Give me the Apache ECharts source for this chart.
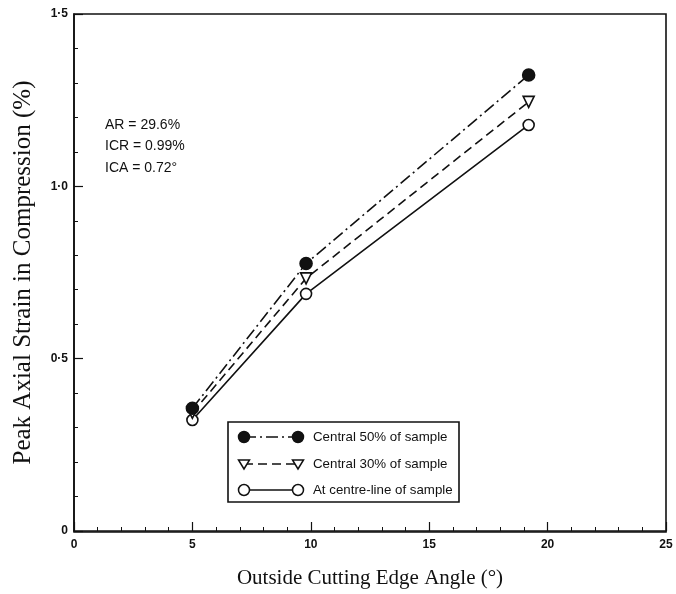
<!DOCTYPE html>
<html><head><meta charset="utf-8">
<script src="https://cdn.jsdelivr.net/npm/echarts@6/dist/echarts.min.js"></script>
<style>html,body{margin:0;padding:0;background:#fff}#c{width:676px;height:594px}</style>
</head><body><div id="c"></div>
<script>
const angles = [5, 9.8, 19.2];
const central50 = [0.356, 0.776, 1.323];
const central30 = [0.343, 0.733, 1.245];
const centreLine = [0.322, 0.688, 1.178];
const seriesNames = ['Central 50% of sample', 'Central 30% of sample', 'At centre-line of sample'];
const notes = ['AR = 29.6%', 'ICR = 0.99%', 'ICA = 0.72°'];
const xTitle = 'Outside Cutting Edge Angle (°)';
const yTitle = 'Peak Axial Strain in Compression (%)';

const chart = echarts.init(document.getElementById('c'));
const pair = (ys) => angles.map((x, i) => [x, ys[i]]);
const lblFont = {fontFamily: 'Liberation Sans', fontSize: 12, fontWeight: 'bold', color: '#111'};
const styles = [
  {type: [12, 4, 2, 4], symbol: 'circle', size: 12, fill: '#111', rot: 0},
  {type: [9, 5], symbol: 'triangle', size: 11, fill: '#fff', rot: 180},
  {type: 'solid', symbol: 'circle', size: 11, fill: '#fff', rot: 0}
];
const data = [central50, central30, centreLine];

const series = data.map((d, i) => ({
  name: seriesNames[i], type: 'line', data: pair(d),
  symbol: styles[i].symbol, symbolSize: styles[i].size, symbolRotate: styles[i].rot,
  lineStyle: {color: '#111', width: 1.6, type: styles[i].type},
  itemStyle: {color: styles[i].fill, borderColor: '#111', borderWidth: 1.6},
  z: 3 - i + 2
}));

const lg = [];
const bx = 228, by = 422, bw = 231, bh = 80;
lg.push({type: 'rect', shape: {x: bx, y: by, width: bw, height: bh}, style: {fill: '#fff', stroke: '#111', lineWidth: 1.6}, z: 10});
const rowY = [437, 464, 490];
rowY.forEach((y, i) => {
  const s = styles[i];
  lg.push({type: 'line', shape: {x1: 244, y1: y, x2: 298, y2: y}, style: {stroke: '#111', lineWidth: 1.6, lineDash: s.type === 'solid' ? null : s.type}, z: 11});
  [244, 298].forEach(cx => {
    if (s.symbol === 'circle') {
      lg.push({type: 'circle', shape: {cx: cx, cy: y, r: 5.5}, style: {fill: s.fill, stroke: '#111', lineWidth: 1.5}, z: 12});
    } else {
      lg.push({type: 'polygon', shape: {points: [[cx - 5.5, y - 4], [cx + 5.5, y - 4], [cx, y + 5]]}, style: {fill: '#fff', stroke: '#111', lineWidth: 1.5}, z: 12});
    }
  });
  lg.push({type: 'text', x: 313, y: y, style: {text: seriesNames[i], fontFamily: 'Liberation Sans', fontSize: 13.3, fill: '#111', verticalAlign: 'middle'}, z: 12});
});
notes.forEach((t, i) => {
  lg.push({type: 'text', x: 105, y: 125 + i * 21.5, style: {text: t, fontFamily: 'Liberation Sans', fontSize: 14, fill: '#111', verticalAlign: 'middle'}, z: 12});
});

chart.setOption({
  animation: false,
  backgroundColor: '#fff',
  grid: {left: 74, right: 10, top: 14, bottom: 62},
  xAxis: {
    type: 'value', min: 0, max: 25, interval: 5,
    axisLine: {lineStyle: {color: '#111', width: 1.6}},
    axisTick: {inside: true, length: 9, lineStyle: {color: '#111', width: 1.2}},
    minorTick: {show: true, splitNumber: 5, length: 4, lineStyle: {color: '#111', width: 1}},
    splitLine: {show: false},
    axisLabel: Object.assign({margin: 8}, lblFont),
    name: xTitle, nameLocation: 'middle', nameGap: 37,
    nameTextStyle: {fontFamily: 'Liberation Serif', fontSize: 21, color: '#111'}
  },
  yAxis: {
    type: 'value', min: 0, max: 1.5, interval: 0.5,
    axisLine: {show: true, lineStyle: {color: '#111', width: 1.6}},
    axisTick: {show: true, inside: true, length: 9, lineStyle: {color: '#111', width: 1.2}},
    minorTick: {show: true, splitNumber: 5, length: 4, lineStyle: {color: '#111', width: 1}},
    splitLine: {show: false},
    axisLabel: Object.assign({margin: 6, formatter: v => v === 0 ? '0' : v.toFixed(1).replace('.', '·')}, lblFont),
    name: yTitle, nameLocation: 'middle', nameGap: 38,
    nameTextStyle: {fontFamily: 'Liberation Serif', fontSize: 25, color: '#111'}
  },
  series: series,
  graphic: lg.concat([
    {type: 'rect', shape: {x: 74, y: 14, width: 592, height: 518}, style: {fill: null, stroke: '#111', lineWidth: 1.6}, z: 1, silent: true}
  ])
});
</script></body></html>
